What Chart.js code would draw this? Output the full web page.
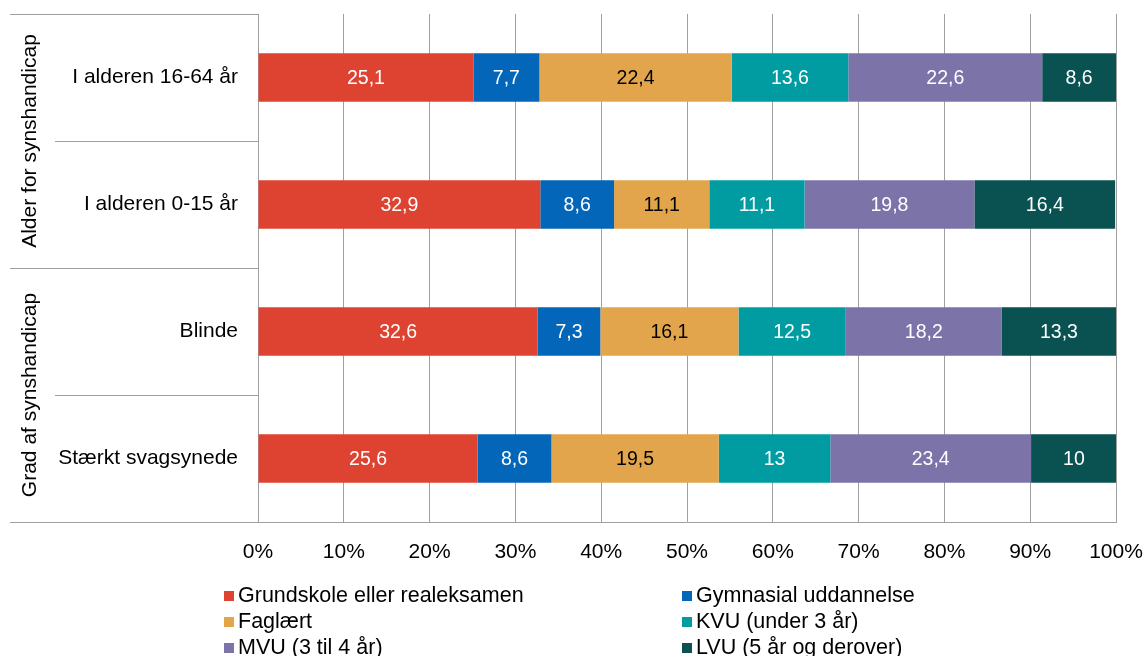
<!DOCTYPE html>
<html>
<head>
<meta charset="utf-8">
<script src="https://cdn.jsdelivr.net/npm/chart.js@4/dist/chart.umd.min.js"></script>
<style>
  html, body { margin: 0; padding: 0; background: #fff; }
  #wrap { width: 1144px; height: 656px; position: relative; }
</style>
</head>
<body>
<div id="wrap"><canvas id="chart"></canvas></div>
<script>
const categories = ["I alderen 16-64 år", "I alderen 0-15 år", "Blinde", "Stærkt svagsynede"];
const groups     = ["Alder for synshandicap", "Grad af synshandicap"];
const seriesNames = [
  "Grundskole eller realeksamen", "Gymnasial uddannelse", "Faglært",
  "KVU (under 3 år)", "MVU (3 til 4 år)", "LVU (5 år og derover)"
];
const grundskole = [25.1, 32.9, 32.6, 25.6];
const gymnasial  = [7.7, 8.6, 7.3, 8.6];
const faglaert   = [22.4, 11.1, 16.1, 19.5];
const kvu        = [13.6, 11.1, 12.5, 13];
const mvu        = [22.6, 19.8, 18.2, 23.4];
const lvu        = [8.6, 16.4, 13.3, 10];
const xTicks     = [0, 10, 20, 30, 40, 50, 60, 70, 80, 90, 100];

const colors     = ["#de4332", "#0466b8", "#e3a54c", "#019ca1", "#7c73a8", "#0a5151"];
const labelColor = ["#fff", "#fff", "#000", "#fff", "#fff", "#fff"];
const FONT = "'Liberation Sans', Arial, sans-serif";
const LINE = "#a0a0a0";

const seriesValues = [grundskole, gymnasial, faglaert, kvu, mvu, lvu];

function fmt(v) {
  return String(v).replace(".", ",");
}

// value labels in the middle of each segment
const barLabels = {
  id: "barLabels",
  afterDatasetsDraw(chart) {
    const ctx = chart.ctx;
    ctx.save();
    ctx.font = "19.5px " + FONT;
    ctx.textAlign = "center";
    ctx.textBaseline = "middle";
    chart.data.datasets.forEach((ds, i) => {
      const meta = chart.getDatasetMeta(i);
      meta.data.forEach((bar, j) => {
        const p = bar.getProps(["x", "y", "base"], true);
        ctx.fillStyle = labelColor[i];
        ctx.fillText(fmt(ds.data[j]), (p.x + p.base) / 2, p.y + 1);
      });
    });
    ctx.restore();
  }
};

// group labels, separator lines on the left and the two-column legend
const frame = {
  id: "frame",
  afterDraw(chart) {
    const ctx = chart.ctx;
    const area = chart.chartArea;
    const band = (area.bottom - area.top) / categories.length;
    ctx.save();
    ctx.strokeStyle = LINE;
    ctx.lineWidth = 1;
    for (let k = 0; k <= categories.length; k++) {
      const yy = Math.round(area.top + k * band) + 0.5;
      const x0 = (k % 2 === 0) ? 10 : 55;
      ctx.beginPath();
      ctx.moveTo(x0, yy);
      ctx.lineTo(area.left, yy);
      ctx.stroke();
    }
    ctx.fillStyle = "#000";
    ctx.font = "21px " + FONT;
    ctx.textAlign = "center";
    ctx.textBaseline = "middle";
    groups.forEach((g, k) => {
      const cy = area.top + band * (2 * k + 1);
      ctx.save();
      ctx.translate(30, cy);
      ctx.rotate(-Math.PI / 2);
      ctx.fillText(g, 0, 0);
      ctx.restore();
    });

    // legend
    ctx.font = "21.5px " + FONT;
    ctx.textAlign = "left";
    const colX = [224, 682];
    chart.data.datasets.forEach((ds, i) => {
      const cx = colX[i % 2];
      const cy = 596 + Math.floor(i / 2) * 26;
      ctx.fillStyle = ds.backgroundColor;
      ctx.fillRect(cx, cy - 5, 10, 10);
      ctx.fillStyle = "#000";
      ctx.fillText(ds.label, cx + 14, cy);
    });
    ctx.restore();
  }
};

new Chart(document.getElementById("chart"), {
  type: "bar",
  data: {
    labels: categories,
    datasets: seriesNames.map((name, i) => ({
      label: name,
      data: seriesValues[i],
      backgroundColor: colors[i],
      borderWidth: 0,
      barPercentage: 0.38,
      categoryPercentage: 1
    }))
  },
  options: {
    indexAxis: "y",
    responsive: true,
    maintainAspectRatio: false,
    animation: false,
    layout: { padding: { left: 10, right: 28, top: 14, bottom: 0 } },
    plugins: {
      legend: { display: false },
      tooltip: { enabled: false }
    },
    scales: {
      x: {
        stacked: true,
        min: 0,
        max: 100,
        afterBuildTicks(scale) {
          scale.ticks = xTicks.map(v => ({ value: v }));
        },
        afterFit(scale) {
          scale.height = 134;
          scale.paddingLeft = 0;
          scale.paddingRight = 0;
        },
        grid: { color: LINE, drawTicks: false },
        border: { color: LINE },
        ticks: {
          padding: 18,
          color: "#000",
          font: { family: FONT, size: 21 },
          maxRotation: 0,
          callback: v => v + "%"
        }
      },
      y: {
        stacked: true,
        afterFit(scale) {
          scale.width = 248;
          scale.paddingTop = 0;
          scale.paddingBottom = 0;
        },
        grid: { display: false, drawTicks: false },
        border: { color: LINE },
        ticks: {
          padding: 20,
          color: "#000",
          font: { family: FONT, size: 21 }
        }
      }
    }
  },
  plugins: [barLabels, frame]
});
</script>
</body>
</html>
